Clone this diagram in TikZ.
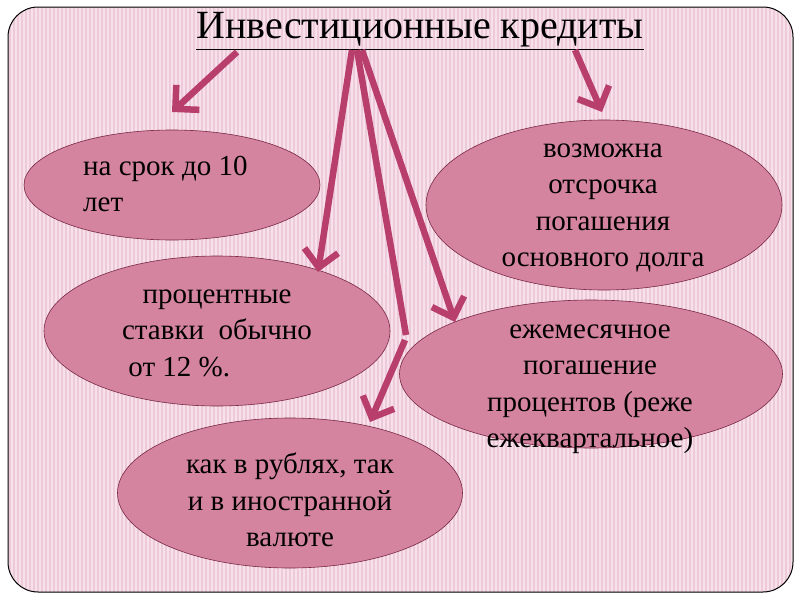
\documentclass[tikz,border=0pt]{standalone}
\usepackage{fontspec}
\setmainfont{Liberation Serif}
\usetikzlibrary{arrows.meta,shapes.geometric}
\definecolor{bgp}{HTML}{F8E1EA}
\definecolor{strp}{HTML}{EDCAD8}
\definecolor{ell}{HTML}{D4849E}
\definecolor{elb}{HTML}{7A2845}
\definecolor{arr}{HTML}{B83E6C}
\tikzset{
 ov/.style={ellipse, draw=elb, line width=0.6pt, fill=ell},
 tx/.style={align=center, font=\fontsize{29}{36.5}\selectfont, inner sep=0pt},
 ar/.style={draw=arr, line width=6.5pt, -{Straight Barb[length=17pt,width=34pt,line width=6.5pt]}},
 seg/.style={draw=arr, line width=6.5pt}
}
\begin{document}
\begin{tikzpicture}[x=1pt,y=-1pt]
\useasboundingbox (0,0) rectangle (800,600);
\fill[white] (0,0) rectangle (800,600);
\fill[bgp, rounded corners=30pt] (8,7) rectangle (793,592);
\begin{scope}
\clip[rounded corners=30pt] (8,7) rectangle (793,592);
\foreach \i in {10,14,...,792} {\draw[strp, line width=1.2pt] (\i,7) -- (\i,592);}
\end{scope}
\draw[black, line width=1pt, rounded corners=30pt] (8,7) rectangle (793,592);
\node[ov, minimum width=296, minimum height=110] (e1) at (172,185) {};
\node[ov, minimum width=356, minimum height=170] (e2) at (604,205) {};
\node[ov, minimum width=346, minimum height=150] (e3) at (217,331) {};
\node[ov, minimum width=383, minimum height=148] (e4) at (591,374) {};
\node[ov, minimum width=345, minimum height=150] (e5) at (290,493) {};
\node[tx, align=left, anchor=west] at (83,184) {на срок до 10\\лет};
\node[tx] at (603,208) {возможна\\отсрочка\\погашения\\основного долга};
\node[tx] at (217,333) {процентные\\ставки\ \ обычно\\от 12 \%.\hspace*{2.6em}};
\node[tx] at (590,389) {ежемесячное\\погашение\\процентов (реже\\ежеквартальное)};
\node[tx] at (290,500) {как в рублях, так\\и в иностранной\\валюте};
\node[font=\fontsize{40}{44}\selectfont, inner sep=0pt] (t) at (420,31) {\underline{Инвестиционные\ кредиты}};
\coordinate (a1) at (237,52); \coordinate (b1) at (172,112);
\coordinate (a2) at (352,50); \coordinate (b2) at (318,272);
\coordinate (a3) at (357,50); \coordinate (m3) at (406,335);
\coordinate (m4) at (405,340); \coordinate (b3) at (370,422);
\coordinate (a4) at (362,50); \coordinate (b4) at (455,322);
\coordinate (a5) at (575,50); \coordinate (b5) at (602,112);
\draw[ar] (a1) -- (b1);
\draw[ar] (a2) -- (b2);
\draw[seg] (a3) -- (m3);
\draw[ar] (m4) -- (b3);
\draw[ar] (a4) -- (b4);
\draw[ar] (a5) -- (b5);
\end{tikzpicture}
\end{document}
